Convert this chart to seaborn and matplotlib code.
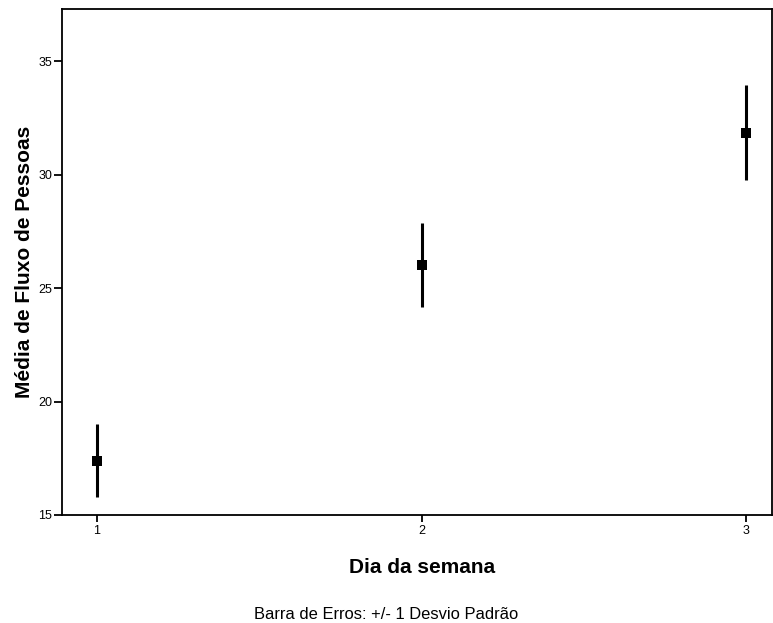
import numpy as np
import pandas as pd
import seaborn as sns
import matplotlib.pyplot as plt

# data
dias = [1, 2, 3]
medias = [17.4, 26.0, 31.85]
desvios = [1.6, 1.85, 2.1]

df = pd.DataFrame({'Dia da semana': dias, 'Média': medias, 'DP': desvios})

sns.set_style('white')
plt.rcParams['font.family'] = ['Liberation Sans', 'DejaVu Sans']
plt.rcParams['text.color'] = 'black'
plt.rcParams['axes.labelcolor'] = 'black'

fig = plt.figure(figsize=(7.73, 6.23), dpi=100)
ax = fig.add_axes([0.0802, 0.1734, 0.9185, 0.8122])

ax.errorbar(df['Dia da semana'], df['Média'], yerr=df['DP'], fmt='none',
            ecolor='black', elinewidth=2.2, capsize=0)
sns.scatterplot(data=df, x='Dia da semana', y='Média', marker='s', s=55,
                color='black', edgecolor='black', linewidth=0, ax=ax, zorder=3)

ax.set_xlim(0.892, 3.08)
ax.set_ylim(15, 37.3)
ax.set_xticks(dias)
ax.set_yticks([15, 20, 25, 30, 35])
ax.tick_params(axis='both', direction='out', length=5, width=1.3, labelsize=9,
               pad=2, colors='black', bottom=True, left=True)
ax.tick_params(axis='y', length=6, pad=1)

for s in ax.spines.values():
    s.set_linewidth(1.3)
    s.set_color('black')

ax.set_xlabel('Dia da semana', fontsize=15, fontweight='bold', labelpad=14)
ax.xaxis.set_label_coords(0.507, -0.085)
ax.set_ylabel('Média de Fluxo de Pessoas', fontsize=15, fontweight='bold', labelpad=3)

fig.text(0.5, 0.0135, 'Barra de Erros: +/- 1 Desvio Padrão', ha='center',
         va='center', fontsize=11.9)

fig.savefig('out.png', dpi=100)
